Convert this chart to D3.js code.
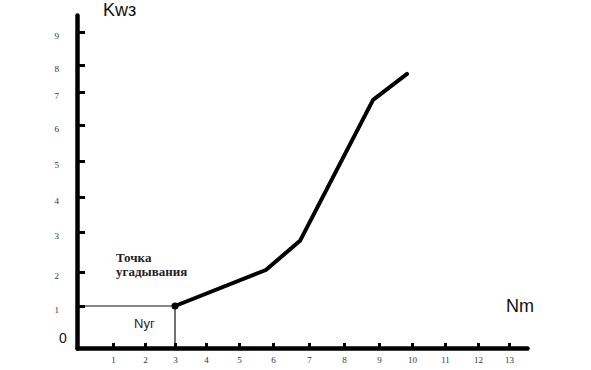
<!DOCTYPE html>
<html>
<head>
<meta charset="utf-8">
<script src="https://cdn.jsdelivr.net/npm/d3@7"></script>
<style>
  body { margin: 0; background: #fff; }
  svg { display: block; }
</style>
</head>
<body>
<svg></svg>
<script>
// Werte
const xTicks = [1, 2, 3, 4, 5, 6, 7, 8, 9, 10, 11, 12, 13];
const yTicks = [1, 2, 3, 4, 5, 6, 7, 8, 9];
const curveX = [3, 5.79, 6.75, 8.83, 9.85];
const curveY = [1, 2.05, 2.78, 6.76, 7.67];
const guessX = 3;
const guessY = 1;

const width = 591;
const height = 370;

// hand-drawn axes: tick spacing is uneven, so piecewise scales
const xDomain = [0, 1, 2, 3, 4, 5, 6, 7, 8, 9, 10, 11, 12, 13, 13.55];
const xRange = [77, 113, 145, 175, 206, 239, 273, 309, 344, 379, 412, 445, 478, 509, 527];
const yDomain = [0, 1, 2, 3, 4, 5, 6, 7, 8, 9, 9.5];
const yRange = [348, 306, 272, 232, 197, 161, 125, 92, 65, 32, 15];

let svg = d3.select("svg").attr("width", width).attr("height", height);

let scaleX = d3.scaleLinear().domain(xDomain).range(xRange);
let scaleY = d3.scaleLinear().domain(yDomain).range(yRange);

// guide lines to the guess point
svg.append("line")
  .attr("x1", scaleX(0)).attr("x2", scaleX(guessX))
  .attr("y1", scaleY(guessY)).attr("y2", scaleY(guessY))
  .attr("stroke", "#111").attr("stroke-width", 1.2);
svg.append("line")
  .attr("x1", scaleX(guessX)).attr("x2", scaleX(guessX))
  .attr("y1", scaleY(guessY)).attr("y2", scaleY(0))
  .attr("stroke", "#111").attr("stroke-width", 1.2);

// x axis
let xAxis = svg.append("g")
  .attr("transform", "translate(0," + scaleY(0) + ")")
  .call(d3.axisBottom(scaleX).tickValues(xTicks).tickSizeInner(-5).tickSizeOuter(0).tickPadding(9));
xAxis.select(".domain").attr("stroke", "#000").attr("stroke-width", 4.5).attr("stroke-linecap", "round");
xAxis.selectAll(".tick line").attr("stroke", "#000").attr("stroke-width", 3);
xAxis.selectAll(".tick text")
  .attr("fill", "#333")
  .style("font-family", "'Liberation Serif', serif")
  .style("font-size", "9px");

// y axis
let yAxis = svg.append("g")
  .attr("transform", "translate(" + scaleX(0) + ",0)")
  .call(d3.axisLeft(scaleY).tickValues(yTicks).tickSizeInner(-8).tickSizeOuter(0).tickPadding(18));
yAxis.select(".domain").attr("stroke", "#000").attr("stroke-width", 4.5).attr("stroke-linecap", "round");
yAxis.selectAll(".tick line").attr("stroke", "#000").attr("stroke-width", 3);
yAxis.selectAll(".tick text")
  .attr("fill", "#333")
  .attr("transform", "translate(0,4)")
  .style("font-family", "'Liberation Serif', serif")
  .style("font-size", "9px");

// curve
let points = curveX.map((x, i) => [x, curveY[i]]);
let line = d3.line().x((d) => scaleX(d[0])).y((d) => scaleY(d[1]));
svg.append("path")
  .datum(points)
  .attr("d", line)
  .attr("fill", "none")
  .attr("stroke", "#000")
  .attr("stroke-width", 4)
  .attr("stroke-linejoin", "round")
  .attr("stroke-linecap", "round");

svg.append("circle")
  .attr("cx", scaleX(guessX))
  .attr("cy", scaleY(guessY))
  .attr("r", 3.5)
  .attr("fill", "#000");

// Beschriftungen
svg.append("text")
  .attr("x", 103).attr("y", 16)
  .attr("fill", "#111")
  .style("font-family", "'Liberation Sans', Arial, sans-serif")
  .style("font-size", "18px")
  .text("Kwз");

svg.append("text")
  .attr("x", 506).attr("y", 312)
  .attr("fill", "#111")
  .style("font-family", "'Liberation Sans', Arial, sans-serif")
  .style("font-size", "18px")
  .text("Nm");

svg.append("text")
  .attr("x", 59).attr("y", 343)
  .attr("fill", "#111")
  .style("font-family", "'Liberation Sans', Arial, sans-serif")
  .style("font-size", "14px")
  .text("0");

svg.append("text")
  .attr("x", 134).attr("y", 328)
  .attr("fill", "#222")
  .style("font-family", "'Liberation Sans', Arial, sans-serif")
  .style("font-size", "13px")
  .text("Nyг");

let label = svg.append("text")
  .attr("fill", "#222")
  .style("font-family", "'Liberation Serif', serif")
  .style("font-weight", "bold")
  .style("font-size", "13px");
label.append("tspan").attr("x", 116).attr("y", 262).text("Точка");
label.append("tspan").attr("x", 116).attr("y", 276).text("угадывания");
</script>
</body>
</html>
